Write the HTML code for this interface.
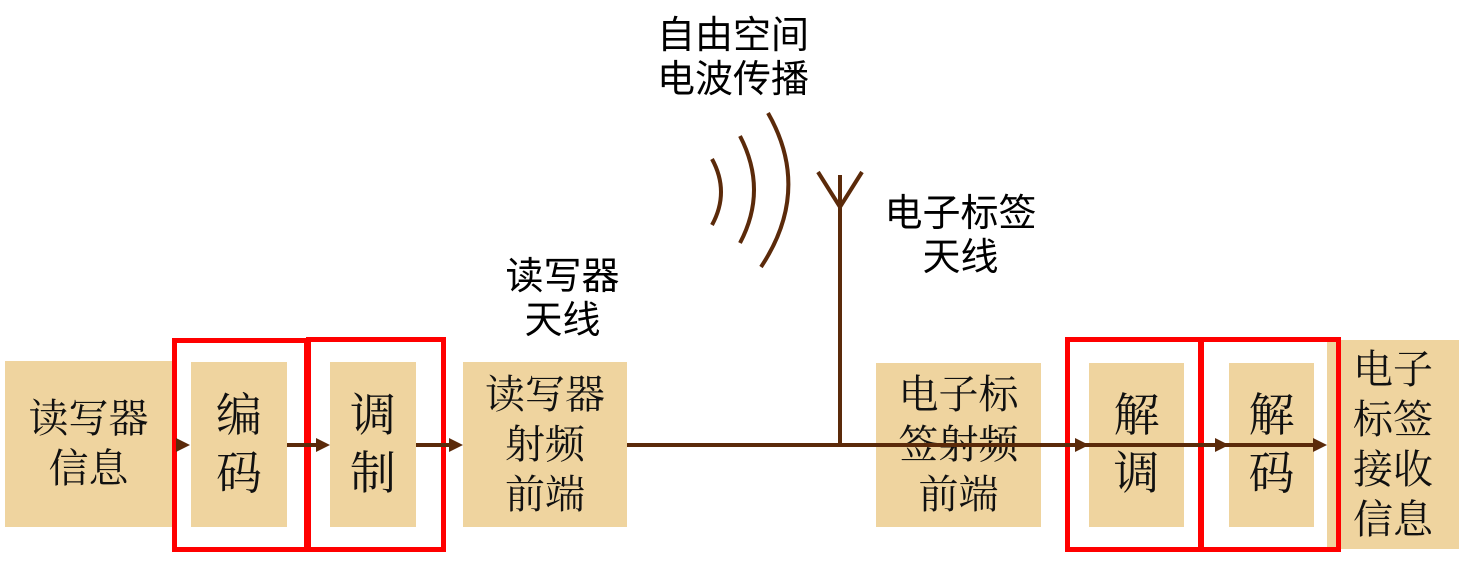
<!DOCTYPE html>
<html><head><meta charset="utf-8"><style>
body{margin:0;width:1459px;height:568px;background:#fff;position:relative;overflow:hidden;font-family:"Liberation Serif","Noto Serif CJK SC",serif;}
.b{position:absolute;background:#EFD49F;display:flex;align-items:center;justify-content:center;text-align:center;font-size:40px;line-height:50px;color:#111;}
.s{font-size:46px;line-height:58px;}
.r{position:absolute;border:5px solid #f00;box-sizing:border-box;}
.t{position:absolute;font-family:"Liberation Sans","Noto Sans CJK SC",sans-serif;font-size:38px;line-height:44px;text-align:center;color:#000;}
svg{position:absolute;left:0;top:0;}
</style></head><body>
<div class="b" style="left:5px;top:361px;width:167px;height:166px;">读写器<br>信息</div>
<div class="b s" style="left:191px;top:362px;width:96px;height:165px;">编<br>码</div>
<div class="b s" style="left:330px;top:362px;width:86px;height:165px;">调<br>制</div>
<div class="b" style="left:463px;top:362px;width:164px;height:165px;">读写器<br>射频<br>前端</div>
<div class="b" style="left:876px;top:363px;width:165px;height:164px;">电子标<br>签射频<br>前端</div>
<div class="b s" style="left:1089px;top:363px;width:95px;height:164px;">解<br>调</div>
<div class="b s" style="left:1229px;top:363px;width:85px;height:164px;">解<br>码</div>
<div class="b" style="left:1327px;top:340px;width:132px;height:209px;">电子<br>标签<br>接收<br>信息</div>
<div class="r" style="left:172px;top:338px;width:137px;height:214px;"></div>
<div class="r" style="left:306px;top:337px;width:140px;height:215px;"></div>
<div class="r" style="left:1065px;top:337px;width:138px;height:215px;"></div>
<div class="r" style="left:1199px;top:337px;width:142px;height:215px;"></div>
<svg width="1459" height="568">
<g stroke="#5B2A0A" stroke-width="4" fill="none">
<line x1="287" y1="445" x2="320" y2="445"/>
<line x1="416" y1="445" x2="452" y2="445"/>
<line x1="627" y1="445" x2="1320" y2="445"/>
<line x1="840" y1="175" x2="840" y2="445"/>
<polyline points="818,172 840,207 862,172"/>
<path d="M712,159 Q730,192 712,225"/>
<path d="M740,136 Q768,190 740,243"/>
<path d="M768,113 Q812,190 761,267"/>
</g>
<g fill="#5B2A0A">
<polygon points="176,438 190,445 176,452"/>
<polygon points="316,438 330,445 316,452"/>
<polygon points="449,438 463,445 449,452"/>
<polygon points="1075,438 1089,445 1075,452"/>
<polygon points="1215,438 1229,445 1215,452"/>
<polygon points="1313,438 1327,445 1313,452"/>
</g>
</svg>
<div class="t" style="left:648px;top:14px;width:170px;">自由空间<br>电波传播</div>
<div class="t" style="left:878px;top:192px;width:165px;">电子标签<br>天线</div>
<div class="t" style="left:495px;top:255px;width:135px;">读写器<br>天线</div>
</body></html>
